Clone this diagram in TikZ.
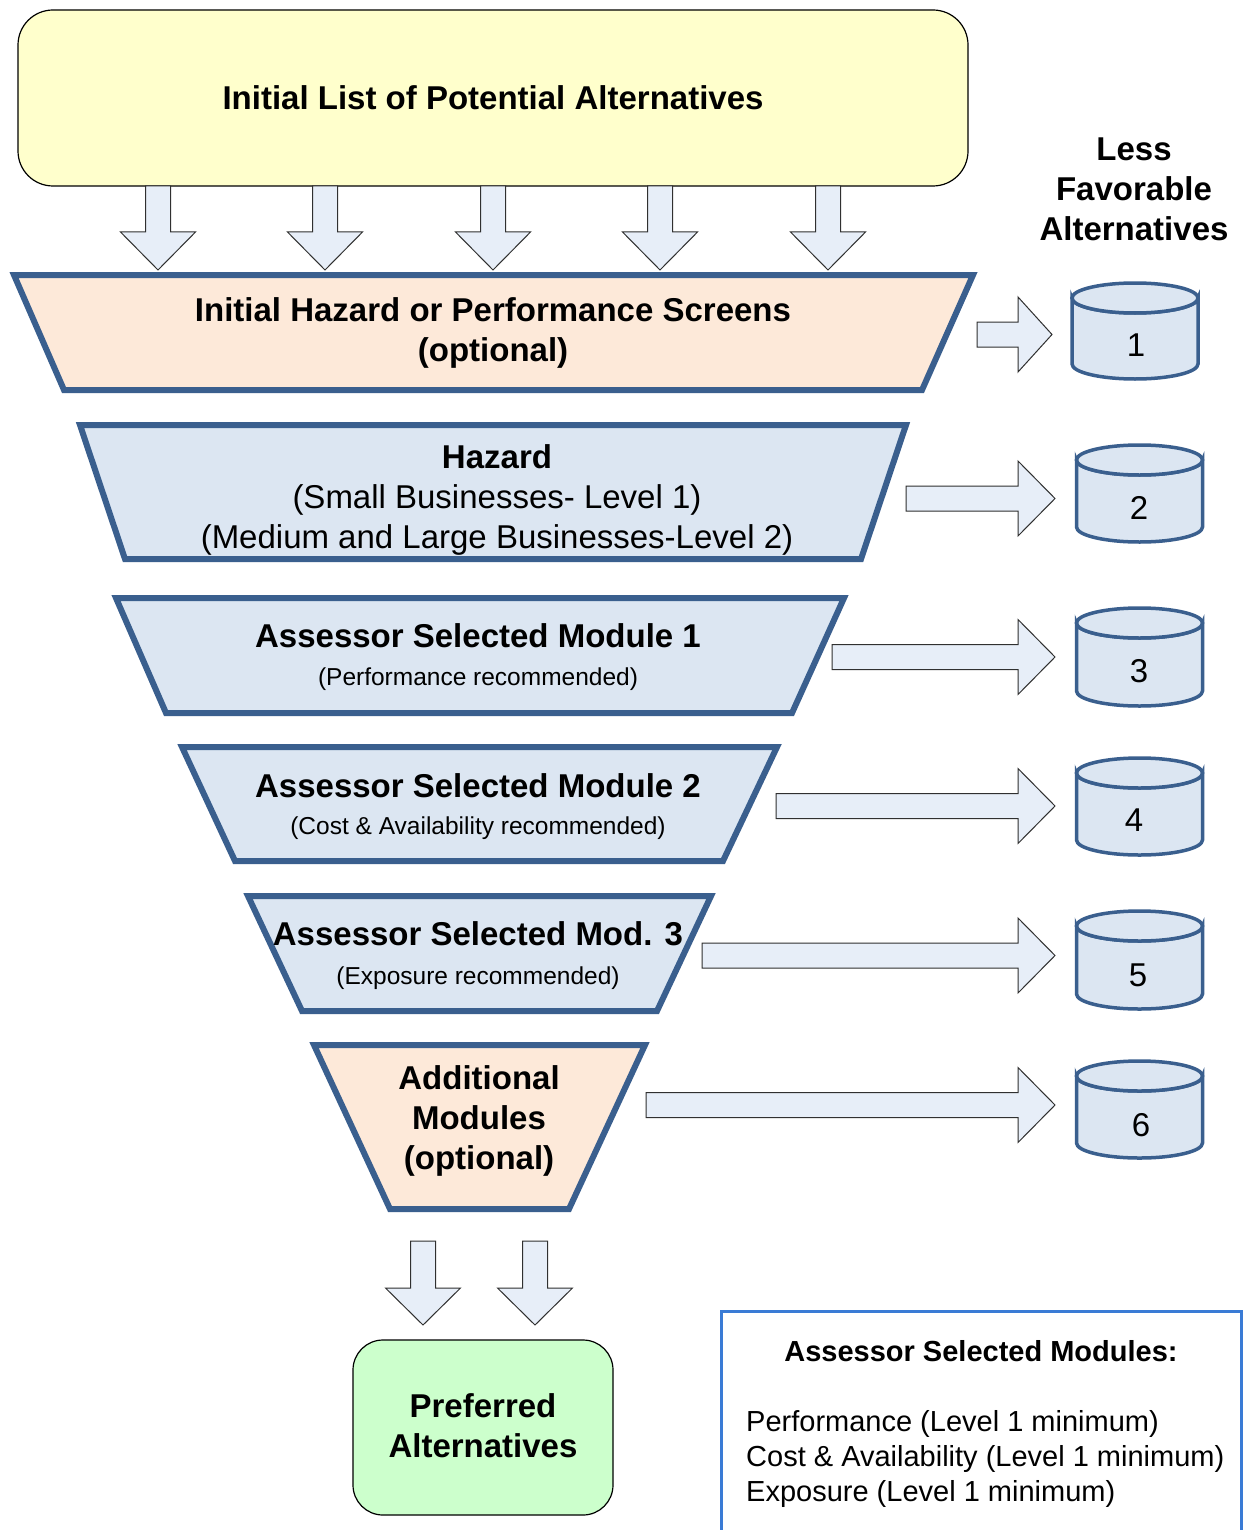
\documentclass[tikz,border=0pt]{standalone}
\usepackage{fontspec}
\setmainfont{Liberation Sans}
\definecolor{yellowc}{HTML}{FFFFCC}
\definecolor{peach}{HTML}{FDE9D9}
\definecolor{lblue}{HTML}{DCE6F2}
\definecolor{fborder}{HTML}{3A5F8E}
\definecolor{arrowfill}{HTML}{E7EEF8}
\definecolor{arrowline}{HTML}{303030}
\definecolor{greenc}{HTML}{CCFFCC}
\definecolor{legendc}{HTML}{3A7BD5}
\tikzset{
  bigtxt/.style={font=\fontsize{33}{40}\selectfont\bfseries, align=center, inner sep=0pt},
  regtxt/.style={font=\fontsize{33}{40}\selectfont, align=center, inner sep=0pt},
  smalltxt/.style={font=\fontsize{24.5}{30}\selectfont, inner sep=0pt},
  legtxt/.style={font=\fontsize{29}{35}\selectfont, align=left, inner sep=0pt},
  funnelpeach/.style={draw=fborder, line width=6pt, fill=peach, line join=miter},
  funnelblue/.style={draw=fborder, line width=6pt, fill=lblue, line join=miter},
  blk/.style={draw=arrowline, line width=1pt, fill=arrowfill},
  cylst/.style={draw=fborder, line width=3.5pt, fill=lblue},
  roundbox/.style={draw=black, line width=1.2pt, rounded corners=35pt},
}
\newcommand\dnarrow[4]{\draw[blk] ({#1-12.5},#2) -- ({#1+12.5},#2) -- ({#1+12.5},#3) -- ({#1+37.5},#3) -- (#1,#4) -- ({#1-37.5},#3) -- ({#1-12.5},#3) -- cycle;}
\newcommand\rtarrow[4]{\draw[blk] (#1,{#2-12.5}) -- (#3,{#2-12.5}) -- (#3,{#2-37.5}) -- (#4,#2) -- (#3,{#2+37.5}) -- (#3,{#2+12.5}) -- (#1,{#2+12.5}) -- cycle;}
\newcommand\cylshape[3]{%
  \filldraw[cylst] ({#1-63},{#2+15}) -- ({#1-63},{#3-15}) arc[start angle=180,end angle=0,x radius=63,y radius=15] -- ({#1+63},{#2+15}) arc[start angle=0,end angle=180,x radius=63,y radius=15] -- cycle;
  \filldraw[cylst] (#1,{#2+15}) ellipse[x radius=63,y radius=15];}
\begin{document}
\begin{tikzpicture}[x=1pt,y=-1pt]
\useasboundingbox (0,0) rectangle (1244,1530);
\fill[white] (0,0) rectangle (1244,1530);

% top box
\node[roundbox, fill=yellowc, minimum width=950pt, minimum height=176pt, bigtxt] (top) at (493,98) {Initial List of Potential Alternatives};

% down arrows from top box to first screen
\dnarrow{158}{186}{232}{270}
\dnarrow{325}{186}{232}{270}
\dnarrow{493}{186}{232}{270}
\dnarrow{660}{186}{232}{270}
\dnarrow{828}{186}{232}{270}

% funnels
\draw[funnelpeach] (14,275) -- (973,275) -- (922,390) -- (64,390) -- cycle;
\node[bigtxt] (f1) at (493,333) {Initial Hazard or Performance Screens\\(optional)};

\draw[funnelblue] (80,425) -- (906,425) -- (861,559) -- (125,559) -- cycle;
\node[bigtxt] (f2a) at (497,457) {Hazard};
\node[regtxt] (f2b) at (497,520) {(Small Businesses- Level 1)\\(Medium and Large Businesses-Level 2)};

\draw[funnelblue] (116,598) -- (844,598) -- (792,713) -- (166,713) -- cycle;
\node[bigtxt] (f3a) at (478,636) {Assessor Selected Module 1};
\node[smalltxt] (f3b) at (478,679) {(Performance recommended)};

\draw[funnelblue] (182,747) -- (777,747) -- (723,861) -- (235,861) -- cycle;
\node[bigtxt] (f4a) at (478,786) {Assessor Selected Module 2};
\node[smalltxt] (f4b) at (478,828) {(Cost \& Availability recommended)};

\draw[funnelblue] (248,896) -- (711,896) -- (657,1011) -- (302,1011) -- cycle;
\node[bigtxt] (f5a) at (478,934) {Assessor Selected Mod. 3};
\node[smalltxt] (f5b) at (478,978) {(Exposure recommended)};

\draw[funnelpeach] (314,1045) -- (645,1045) -- (569,1209) -- (390,1209) -- cycle;
\node[bigtxt] (f6) at (479,1121) {Additional\\Modules\\(optional)};

% right arrows
\rtarrow{977}{334.5}{1018}{1052}
\rtarrow{906}{498.5}{1018}{1055}
\rtarrow{832}{657}{1018}{1055}
\rtarrow{776}{806}{1018}{1055}
\rtarrow{702}{955.5}{1018}{1055}
\rtarrow{646}{1105}{1018}{1055}

% cylinders
\node[bigtxt] (less) at (1134,189) {Less\\Favorable\\Alternatives};
\cylshape{1135}{283}{379}
\node[regtxt] (c1) at (1136,345) {1};
\cylshape{1139.5}{445}{542}
\node[regtxt] (c2) at (1139,508) {2};
\cylshape{1139.5}{608}{706}
\node[regtxt] (c3) at (1139,671) {3};
\cylshape{1139.5}{758}{855}
\node[regtxt] (c4) at (1134,820) {4};
\cylshape{1139.5}{911}{1009}
\node[regtxt] (c5) at (1138,975) {5};
\cylshape{1139.5}{1061}{1158}
\node[regtxt] (c6) at (1141,1125) {6};

% bottom arrows
\dnarrow{423}{1241}{1288}{1325}
\dnarrow{535}{1241}{1288}{1325}

% preferred
\node[roundbox, rounded corners=30pt, fill=greenc, minimum width=260pt, minimum height=175pt] (pref) at (483,1427.5) {};
\node[bigtxt] (preft) at (pref) [yshift=2pt] {Preferred\\Alternatives};

% legend
\draw[legendc, line width=3pt] (721.5,1545) -- (721.5,1311.5) -- (1241.5,1311.5) -- (1241.5,1545);
\node[font=\fontsize{29}{35}\selectfont\bfseries, inner sep=0pt] (legt) at (981,1351) {Assessor Selected Modules:};
\node[legtxt, anchor=west] (legb) at (746,1459) {Performance (Level 1 minimum)\\Cost \& Availability (Level 1 minimum)\\Exposure (Level 1 minimum)};
\end{tikzpicture}
\end{document}
